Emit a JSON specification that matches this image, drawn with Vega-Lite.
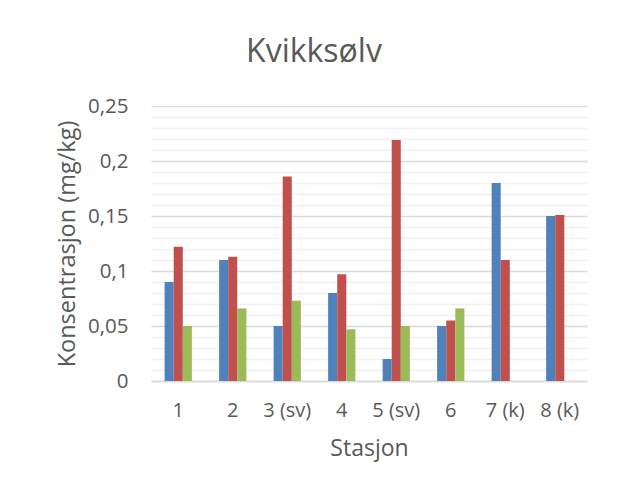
{
  "$schema": "https://vega.github.io/schema/vega-lite/v6.json",
  "width": 436,
  "height": 275,
  "autosize": {"type": "none"},
  "padding": {"left": 151, "top": 106, "right": 32, "bottom": 119},
  "background": "white",
  "config": {
    "font": "Open Sans",
    "view": {"stroke": null},
    "axis": {"labelColor": "#595959", "titleColor": "#595959", "titleFontWeight": "normal"}
  },
  "title": {
    "text": "Kvikksølv",
    "font": "Open Sans",
    "fontSize": 32,
    "fontWeight": "normal",
    "color": "#595959",
    "anchor": "middle",
    "dx": -55,
    "offset": 27
  },
  "data": {
    "values": [
      {"stasjon": "1", "serie": "Serie1", "verdi": 0.09},
      {"stasjon": "1", "serie": "Serie2", "verdi": 0.122},
      {"stasjon": "1", "serie": "Serie3", "verdi": 0.05},
      {"stasjon": "2", "serie": "Serie1", "verdi": 0.11},
      {"stasjon": "2", "serie": "Serie2", "verdi": 0.113},
      {"stasjon": "2", "serie": "Serie3", "verdi": 0.066},
      {"stasjon": "3 (sv)", "serie": "Serie1", "verdi": 0.05},
      {"stasjon": "3 (sv)", "serie": "Serie2", "verdi": 0.186},
      {"stasjon": "3 (sv)", "serie": "Serie3", "verdi": 0.073},
      {"stasjon": "4", "serie": "Serie1", "verdi": 0.08},
      {"stasjon": "4", "serie": "Serie2", "verdi": 0.097},
      {"stasjon": "4", "serie": "Serie3", "verdi": 0.047},
      {"stasjon": "5 (sv)", "serie": "Serie1", "verdi": 0.02},
      {"stasjon": "5 (sv)", "serie": "Serie2", "verdi": 0.219},
      {"stasjon": "5 (sv)", "serie": "Serie3", "verdi": 0.05},
      {"stasjon": "6", "serie": "Serie1", "verdi": 0.05},
      {"stasjon": "6", "serie": "Serie2", "verdi": 0.055},
      {"stasjon": "6", "serie": "Serie3", "verdi": 0.066},
      {"stasjon": "7 (k)", "serie": "Serie1", "verdi": 0.18},
      {"stasjon": "7 (k)", "serie": "Serie2", "verdi": 0.11},
      {"stasjon": "8 (k)", "serie": "Serie1", "verdi": 0.15},
      {"stasjon": "8 (k)", "serie": "Serie2", "verdi": 0.151}
    ]
  },
  "encoding": {
    "x": {
      "field": "stasjon",
      "type": "nominal",
      "sort": null,
      "scale": {"paddingInner": 0.5, "paddingOuter": 0.25},
      "axis": {
        "title": "Stasjon",
        "labelAngle": 0,
        "labelFontSize": 20,
        "labelPadding": 19,
        "ticks": false,
        "domainColor": "#d9d9d9",
        "domainWidth": 1.5,
        "titleFontSize": 23,
        "titlePadding": 17
      }
    },
    "xOffset": {"field": "serie", "type": "nominal", "scale": {"domain": ["Serie1", "Serie2", "Serie3"], "padding": 0}},
    "color": {
      "field": "serie",
      "type": "nominal",
      "scale": {"domain": ["Serie1", "Serie2", "Serie3"], "range": ["#4f81bd", "#c0504d", "#9bbb59"]},
      "legend": null
    }
  },
  "layer": [
    {
      "mark": {"type": "bar", "opacity": 0},
      "encoding": {
        "y": {
          "field": "verdi",
          "type": "quantitative",
          "scale": {"domain": [0, 0.25], "nice": false},
          "axis": {
            "orient": "left",
            "values": [0.01, 0.02, 0.03, 0.04, 0.06, 0.07, 0.08, 0.09, 0.11, 0.12, 0.13, 0.14, 0.16, 0.17, 0.18, 0.19, 0.21, 0.22, 0.23, 0.24],
            "grid": true,
            "gridColor": "#f0f0f0",
            "gridWidth": 1.5,
            "labels": false,
            "ticks": false,
            "domain": false,
            "title": null
          }
        }
      }
    },
    {
      "mark": {"type": "bar"},
      "encoding": {
        "y": {
          "field": "verdi",
          "type": "quantitative",
          "scale": {"domain": [0, 0.25], "nice": false},
          "axis": {
            "orient": "left",
            "values": [0, 0.05, 0.1, 0.15, 0.2, 0.25],
            "labelExpr": "replace(toString(datum.value), '.', ',')",
            "grid": true,
            "gridColor": "#d9d9d9",
            "gridWidth": 1.5,
            "ticks": false,
            "domain": false,
            "labelFontSize": 20.5,
            "labelPadding": 23,
            "title": "Konsentrasjon (mg/kg)",
            "titleFontSize": 23.5,
            "titlePadding": 8
          }
        }
      }
    }
  ],
  "resolve": {"axis": {"y": "independent"}}
}
